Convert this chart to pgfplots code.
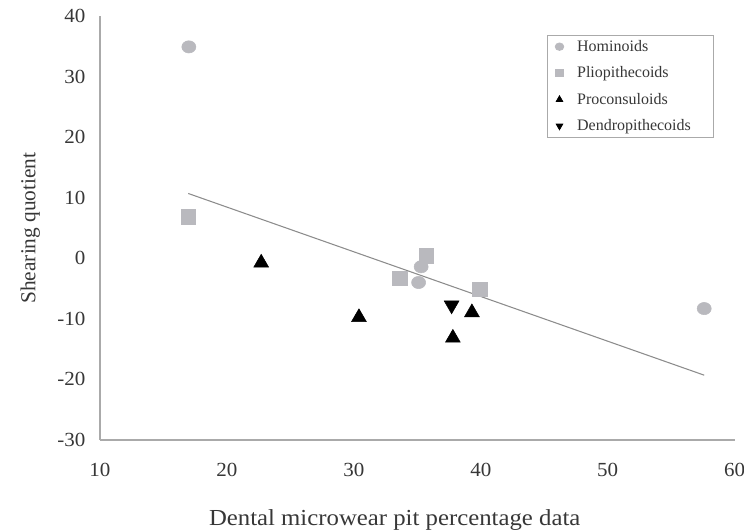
\documentclass[border=0pt]{standalone}
\usepackage{pgfplots}
\pgfplotsset{compat=1.18}
\usepackage{fontspec}
\setmainfont{Liberation Serif}
\definecolor{mgray}{RGB}{185,185,190}
\definecolor{agray}{RGB}{170,170,170}
\definecolor{lgray}{RGB}{140,140,140}
\definecolor{tgray}{RGB}{55,55,55}
\begin{document}
\begin{tikzpicture}
\useasboundingbox (0,0) rectangle (558pt,398.25pt);
\begin{axis}[
  at={(75pt,68.25pt)}, anchor=south west,
  scale only axis, width=476pt, height=318pt,
  xmin=10, xmax=60, ymin=-30, ymax=40,
  xtick={10,20,...,60}, ytick={-30,-20,...,40},
  axis lines*=left,
  axis line style={agray, line width=0.9pt},
  major tick length=0pt,
  tick style={draw=none},
  /pgf/number format/assume math mode=true,
  ticklabel style={font=\fontsize{15}{17}\selectfont, text=tgray, xscale=1.05},
  xticklabel style={yshift=-14pt},
  yticklabel style={xshift=-7pt},
  xlabel={Dental microwear pit percentage data},
  ylabel={Shearing quotient},
  label style={font=\fontsize{16}{19}\selectfont, text=tgray},
  xlabel style={yshift=-18pt, xshift=-17pt, font=\fontsize{17.2}{20}\selectfont, xscale=1.08},
  ylabel style={yshift=6pt},
  clip=false,
  legend style={at={(0.704,0.955)}, anchor=north west, draw=agray, line width=0.6pt,
    font=\fontsize{12}{14}\selectfont, text=tgray, row sep=6pt,
    inner xsep=6pt, inner ysep=1.5pt, text width=94pt,
    /tikz/every odd column/.append style={column sep=8pt}},
  legend cell align=left,
  legend image post style={mark size=2.8pt},
]
\addplot[only marks, mark=*, mark options={draw=mgray, fill=mgray, xscale=1.15}, mark size=4.6pt]
  coordinates {(17.0,34.9) (35.3,-1.4) (35.1,-4.0) (57.6,-8.3)};
\addlegendentry{Hominoids}
\addplot[only marks, mark=square*, mark options={draw=mgray, fill=mgray}, mark size=5.5pt]
  coordinates {(16.95,6.8) (35.7,0.4) (33.6,-3.3) (39.9,-5.1)};
\addlegendentry{Pliopithecoids}
\addplot[only marks, mark=triangle*, mark options={draw=black, fill=black}, mark size=6.4pt]
  coordinates {(22.7,-0.75) (30.4,-9.75) (39.3,-8.95) (37.8,-13.15)};
\addlegendentry{Proconsuloids}
\addplot[only marks, mark=triangle*, mark options={draw=black, fill=black, rotate=180}, mark size=6.4pt]
  coordinates {(37.7,-7.75)};
\addlegendentry{Dendropithecoids}
\addplot[lgray, line width=0.8pt, forget plot] coordinates {(16.95,10.7) (57.6,-19.3)};
\end{axis}
\end{tikzpicture}
\end{document}
